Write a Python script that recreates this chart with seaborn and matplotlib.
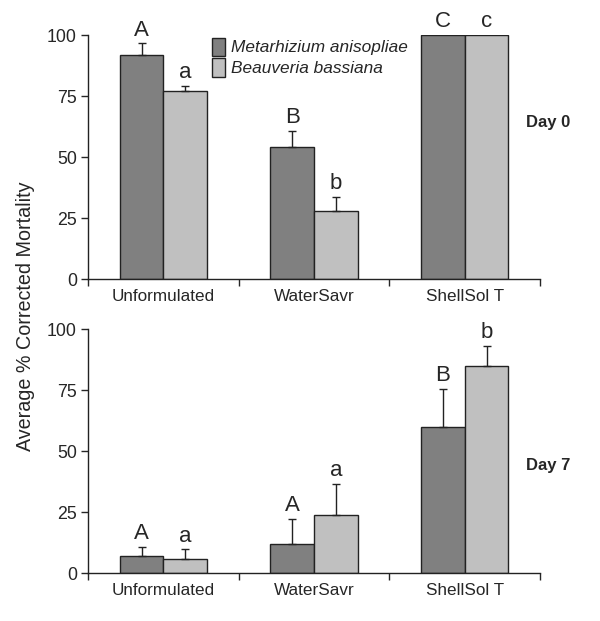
"""Corrected mortality of mosquito larvae: two fungi in three formulations, day 0 and day 7."""

import matplotlib
matplotlib.use("Agg")
import matplotlib.pyplot as plt
import matplotlib.ticker as mticker
import pandas as pd
import seaborn as sns

sns.set_style("ticks")
plt.rcParams["font.family"] = ["Liberation Sans", "DejaVu Sans"]

# Data
formulations = ["Unformulated", "WaterSavr", "ShellSol T"]
species = ["Metarhizium anisopliae", "Beauveria bassiana"]

day0_ma = [92, 54, 100]
day0_ma_se = [4.6, 6.8, 0]
day0_bb = [77, 28, 100]
day0_bb_se = [2.2, 5.6, 0]
day0_ma_letters = ["A", "B", "C"]
day0_bb_letters = ["a", "b", "c"]

day7_ma = [7, 12, 60]
day7_ma_se = [3.8, 10.4, 15.6]
day7_bb = [6, 24, 85]
day7_bb_se = [3.8, 12.7, 8.0]
day7_ma_letters = ["A", "A", "B"]
day7_bb_letters = ["a", "a", "b"]

COLORS = ["#808080", "#c0c0c0"]


def make_frame(ma, bb):
    return pd.DataFrame({
        "Formulation": formulations * 2,
        "species": [species[0]] * 3 + [species[1]] * 3,
        "mortality": ma + bb,
    })


def draw_panel(ax, ma, ma_se, bb, bb_se, ma_letters, bb_letters, day_label):
    df = make_frame(ma, bb)
    sns.barplot(data=df, x="Formulation", y="mortality", hue="species",
                hue_order=species, order=formulations, palette=COLORS,
                width=0.58, gap=0, errorbar=None, edgecolor="#222222",
                linewidth=1.0, legend=False, ax=ax)

    for container, se, letters in zip(ax.containers, [ma_se, bb_se],
                                      [ma_letters, bb_letters]):
        for bar, err, letter in zip(container.patches, se, letters):
            x = bar.get_x() + bar.get_width() / 2
            h = bar.get_height()
            if err > 0:
                ax.errorbar(x, h, yerr=[[0], [err]], fmt="none", ecolor="#222222",
                            elinewidth=1.0, capsize=3, capthick=1.0)
            ax.annotate(letter, (x, h + err), xytext=(0, 2), textcoords="offset points",
                        ha="center", va="bottom", fontsize=16)

    ax.set_ylim(0, 100)
    ax.set_xlim(-0.5, 2.5)
    ax.set_yticks([0, 25, 50, 75, 100])
    ax.xaxis.set_minor_locator(mticker.FixedLocator([-0.5, 0.5, 1.5, 2.5]))
    ax.tick_params(axis="x", which="major", length=0, pad=7, labelsize=12.3)
    ax.tick_params(axis="x", which="minor", length=5, width=1, direction="out")
    ax.tick_params(axis="y", length=5, width=1, direction="out", labelsize=12.8, pad=3)
    ax.set_xlabel("")
    ax.set_ylabel("")
    sns.despine(ax=ax)
    for side in ["left", "bottom"]:
        ax.spines[side].set_linewidth(1.0)
        ax.spines[side].set_color("#222222")
    ax.text(0.97, day_label[1], day_label[0], transform=ax.transAxes,
            fontsize=12, fontweight="bold", ha="left", va="center")


fig = plt.figure(figsize=(6, 6.21), dpi=100)
ax_top = fig.add_axes([0.1467, 0.5507, 0.7533, 0.3929])
ax_bot = fig.add_axes([0.1467, 0.0768, 0.7533, 0.3934])

draw_panel(ax_top, day0_ma, day0_ma_se, day0_bb, day0_bb_se,
           day0_ma_letters, day0_bb_letters, ("Day 0", 0.643))
draw_panel(ax_bot, day7_ma, day7_ma_se, day7_bb, day7_bb_se,
           day7_ma_letters, day7_bb_letters, ("Day 7", 0.44))

handles = [plt.Rectangle((0, 0), 1, 1, facecolor=c, edgecolor="#222222", linewidth=1.0)
           for c in COLORS]
ax_top.legend(handles, species, loc="upper left", bbox_to_anchor=(0.255, 1.025),
              frameon=False, borderpad=0, handlelength=0.75, handleheight=1.25,
              handletextpad=0.35, labelspacing=0.15,
              prop={"style": "italic", "size": 12.4})

fig.text(0.043, 0.49, "Average % Corrected Mortality", rotation=90,
         ha="center", va="center", fontsize=14.2)

fig.savefig("out.png", dpi=100)
plt.close(fig)
